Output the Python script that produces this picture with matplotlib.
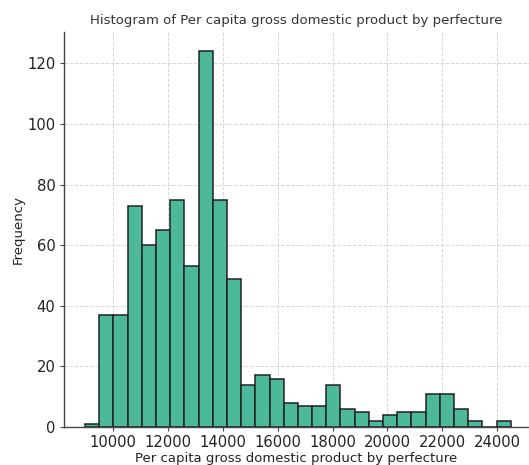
import numpy as np
import matplotlib.pyplot as plt

# bin edges and counts
bin_start = 8967
bin_width = 518
counts = [1, 37, 37, 73, 60, 65, 75, 53, 124, 75, 49, 14, 17, 16, 8,
          7, 7, 14, 6, 5, 2, 4, 5, 5, 11, 11, 6, 2, 0, 2]
xticks = [10000, 12000, 14000, 16000, 18000, 20000, 22000, 24000]
yticks = [0, 20, 40, 60, 80, 100, 120]

edges = bin_start + bin_width * np.arange(len(counts) + 1)
centers = (edges[:-1] + edges[1:]) / 2

fig = plt.figure(figsize=(5.29, 4.65), dpi=100)
ax = fig.add_axes([0.1204, 0.0817, 0.8796, 0.8486])

ax.hist(centers, bins=edges, weights=counts, color='#4cb99a',
        edgecolor='#222222', linewidth=1.1, zorder=2)

ax.set_xlim(8190, 25170)
ax.set_ylim(0, 130.2)
ax.set_xticks(xticks)
ax.set_yticks(yticks)
ax.tick_params(labelsize=10.6, length=3, width=0.8, colors='#444444',
               labelcolor='#222222', pad=3)

ax.grid(True, linestyle='--', color='#d6d6d6', linewidth=0.7, zorder=0)
ax.set_axisbelow(True)
for s in ['top', 'right']:
    ax.spines[s].set_visible(False)
for s in ['left', 'bottom']:
    ax.spines[s].set_color('#444444')
    ax.spines[s].set_linewidth(1.0)

ax.set_title('Histogram of Per capita gross domestic product by perfecture',
             fontsize=9.5, color='#333333', pad=6)
ax.set_xlabel('Per capita gross domestic product by perfecture', fontsize=9.5,
              color='#222222', labelpad=1)
ax.set_ylabel('Frequency', fontsize=9.5, color='#222222', labelpad=1.5)

fig.savefig('out.png', dpi=100)
